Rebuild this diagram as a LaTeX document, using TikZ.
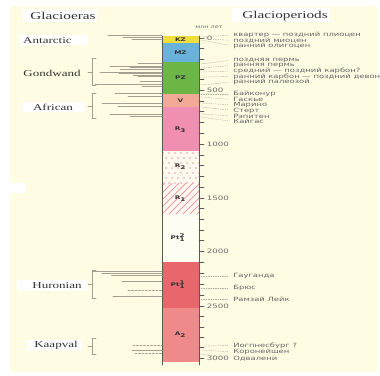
\documentclass[tikz,border=0pt]{standalone}
\usepackage{fontspec}
\setmainfont{Liberation Serif}
\newfontfamily\cyrfont{DejaVu Sans}

\definecolor{paper}{HTML}{FFFCE4}
\definecolor{ink}{HTML}{333333}
\definecolor{pergrey}{HTML}{666666}
\definecolor{agegrey}{HTML}{6A6A6A}
\definecolor{axis}{HTML}{5A5A5A}
\definecolor{glacline}{HTML}{A59F90}
\definecolor{linkgrey}{HTML}{B0AA9C}
\definecolor{kzcol}{HTML}{EEDD3A}
\definecolor{mzcol}{HTML}{69B3DB}
\definecolor{pzcol}{HTML}{6CB646}
\definecolor{vcol}{HTML}{F2A995}
\definecolor{rthree}{HTML}{F08FB0}
\definecolor{rpale}{HTML}{FFFBEC}
\definecolor{rmark}{HTML}{F09AB6}
\definecolor{ptpale}{HTML}{FFFDF2}
\definecolor{ptone}{HTML}{E8666C}
\definecolor{atwo}{HTML}{EE8A8A}

\begin{document}
\begin{tikzpicture}[x=1pt,y=-1pt,line cap=round,
  lab/.style={inner sep=0pt,xscale=1.45,transform shape},
  head/.style={lab,font=\fontsize{10.5}{11}\selectfont,text=ink},
  era/.style={lab,font=\fontsize{9}{10}\selectfont,text=ink},
  per/.style={lab,anchor=west,font=\cyrfont\fontsize{5.8}{6}\selectfont,text=pergrey},
  age/.style={lab,anchor=west,font=\cyrfont\fontsize{6}{6}\selectfont,text=agegrey},
  seg/.style={lab,font=\cyrfont\bfseries\fontsize{5}{6}\selectfont,text=ink},
  glac/.style={draw=glacline,line width=0.8pt},
  brace/.style={draw=glacline,line width=0.7pt},
  link/.style={draw=linkgrey,dash pattern=on 1.2pt off 1.2pt,line width=0.4pt,shorten >=5pt},
  tick/.style={draw=axis,line width=0.6pt}]

  \useasboundingbox (0,0) rectangle (380,375);

  %-------------------------
  % Fondo y recuadros blancos
  %-------------------------
  \fill[white] (0,0) rectangle (380,375);
  \fill[paper] (10,6) rectangle (377,372);
  \fill[white] (23,9) rectangle (97,22);     % Glacioeras
  \fill[white] (232,8) rectangle (330,22);   % Glacioperiods
  \fill[white] (20,35) rectangle (88,45);    % Antarctic
  \fill[white] (22,102) rectangle (85,112);  % African
  \fill[white] (17,280) rectangle (88,291);  % Huronian
  \fill[white] (27,340) rectangle (82,351);  % Kaapval
  \fill[white] (10,183) rectangle (26,193);

  %-------------------------
  % Columna estratigráfica
  %-------------------------
  \foreach \a/\b/\c in {36/43/kzcol, 43/62/mzcol, 62/94/pzcol, 94/107/vcol,
      107/151/rthree, 151/183/rpale, 183/214/rpale, 214/262/ptpale,
      262/308/ptone, 308/362/atwo}
    \fill[\c] (162,\a) rectangle (199,\b);

  % R2: puntos
  \begin{scope}
    \clip (162,151) rectangle (199,183);
    \foreach \r in {0,...,6} {
      \pgfmathsetmacro{\off}{mod(\r,2)*3}
      \foreach \k in {0,...,7}
        \fill[rmark] ({163+\off+6*\k},{153+5*\r}) circle (0.8);
    }
  \end{scope}

  % R1: rayado
  \begin{scope}
    \clip (162,183) rectangle (199,214);
    \foreach \i in {-35,-28,...,42}
      \draw[rmark,line width=1pt] ({162+\i},214) -- ++(31,-31);
  \end{scope}

  % rótulos de la columna
  \node[seg] (kz)  at (180.5,39.5) {KZ};
  \node[seg] (mz)  at (180.5,52.5) {MZ};
  \node[seg] (pz)  at (180.5,78)   {PZ};
  \node[seg] (v)   at (180.5,100.5){V};
  \node[seg] (rc)  at (180.5,130)  {R\textsubscript{3}};
  \node[seg] (rb)  at (180.5,167)  {R\textsubscript{2}};
  \node[seg] (ra)  at (180.5,199)  {R\textsubscript{1}};
  \node[seg] (ptb) at (178,238)    {Pt\rlap{\textsuperscript{2}}\textsubscript{1}};
  \node[seg] (pta) at (178,285)    {Pt\rlap{\textsuperscript{1}}\textsubscript{1}};
  \node[seg] (ab)  at (180.5,335)  {A\textsubscript{2}};

  \draw[axis,line width=0.7pt] (162,36) -- (162,365);
  \draw[axis,line width=0.7pt] (199,36) -- (199,365);

  %-------------------------
  % Escala (млн лет)
  %-------------------------
  \foreach \a/\b in {38/90, 90/144, 144/198, 198/251, 251/306, 306/358}
    \foreach \k in {0,...,4}
      \draw[tick] (199,{\a+(\b-\a)*\k/5}) -- ++(5,0);
  \draw[tick] (199,358) -- ++(5,0);

  \foreach \y/\v in {38/0, 90/500, 144/1000, 198/1500, 251/2000, 306/2500, 358/3000}
    \node[age] (n\v) at (206.5,\y) {\v};
  \node[lab,font=\cyrfont\fontsize{4.5}{5}\selectfont,text=agegrey] (unit) at (209,27) {млн лет};

  %-------------------------
  % Títulos
  %-------------------------
  \node[head] (eras) at (63,15.5) {Glacioeras};
  \node[head] (periods) at (285,15.5) {Glacioperiods};

  %-------------------------
  % Glaciaciones (izquierda)
  %-------------------------
  \foreach \y/\x in {35.7/108, 37.3/123, 39.3/132,
      63.3/138, 66/110, 67.7/130, 69.3/120, 72.3/100, 73.7/119, 75/133,
      76.7/138, 81.7/140, 84.3/95, 86/142,
      93.7/115, 96.7/128, 103/102, 106.7/118, 114.3/110, 116.7/130,
      271/93, 273.3/102, 281/122, 296.7/113, 350/132}
    \draw[glac] (\x,\y) -- (162,\y);
  \draw[glac,line width=1.6pt] (112,275.3) -- (162,275.3);
  \foreach \y/\x in {290/128, 345/133, 353.7/135}
    \draw[glac,dash pattern=on 2pt off 1.5pt] (\x,\y) -- (162,\y);

  % llaves
  \foreach \t/\m/\b in {58/72/85, 93/106/118, 270/284/298, 338/346/354} {
    \draw[brace] (96,\t) -- (92,\t) -- (92,\b) -- (96,\b);
    \draw[brace] (92,\m) -- (88,\m);
  }

  \node[era] (antarctic) at (47.5,40.5) {Antarctic};
  \node[era] (gondwand) at (52,73) {Gondwand};
  \node[era] (african) at (53,107.5) {African};
  \node[era] (huronian) at (57,285.5) {Huronian};
  \node[era] (kaapval) at (56,345.5) {Kaapval};

  %-------------------------
  % Glaciaciones (derecha)
  %-------------------------
  \foreach \i/\e/\l/\t in {1/37/35/квартер — поздний плиоцен,
      2/38.5/40.5/поздний миоцен, 3/40/46/ранний олигоцен,
      4/64/60/поздняя пермь, 5/68/65.5/ранняя пермь,
      6/72/71/средний — поздний карбон?, 7/77/76.5/ранний карбон — поздний девон,
      8/85/82/ранний палеозой,
      9/94/94/Байконур, 10/97/99.5/Гаскье, 11/103/105/Марино,
      12/107/110.5/Стерт, 13/114/116/Рэпитен, 14/117/121.5/Кайгас,
      15/276/276/Гауганда, 16/288/288/Брюс, 17/299/299/Рамзай Лейк,
      18/346/345.5/Иогпнесбург ?, 19/350/352/Коронейшен, 20/354/358.5/Одвалени} {
    \coordinate (e\i) at (201,\e);
    \node[per] (p\i) at (233,\l) {\t};
    \draw[link] (e\i) -- (p\i.west);
  }

\end{tikzpicture}
\end{document}
